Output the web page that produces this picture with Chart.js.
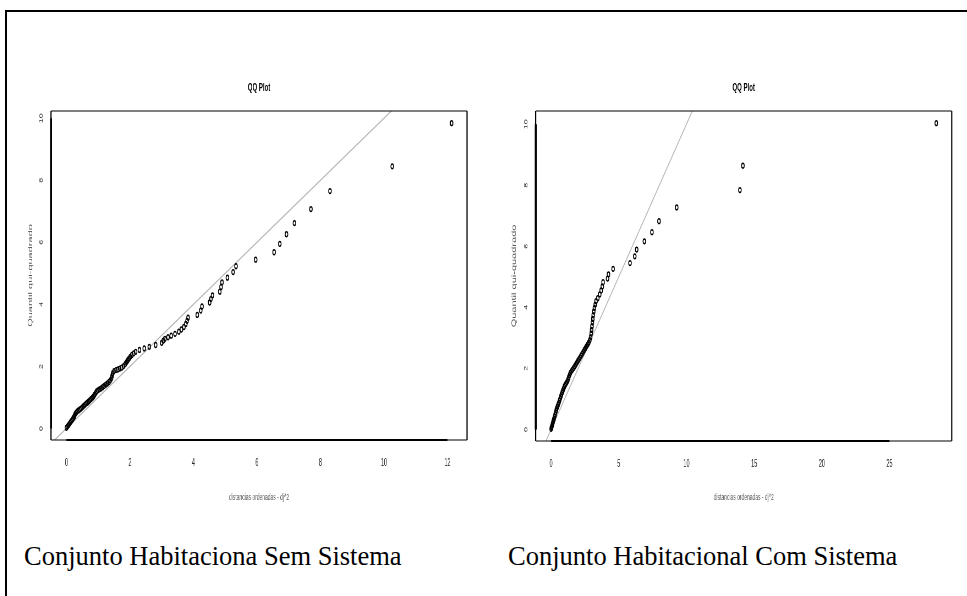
<!DOCTYPE html>
<html><head><meta charset="utf-8">
<script src="https://cdn.jsdelivr.net/npm/chart.js@4.4.1/dist/chart.umd.min.js"></script>
<style>
html,body{margin:0;padding:0;background:#fff;width:967px;height:596px;overflow:hidden;position:relative;}
#frame{position:absolute;left:5px;top:10px;width:990px;height:620px;border-top:2px solid #000;border-left:2px solid #000;}
.cap{position:absolute;font-family:"Liberation Serif","Times New Roman",serif;font-size:26.5px;line-height:30px;color:#000;white-space:nowrap;}
</style></head><body>
<div id="frame"></div>
<canvas id="c1"></canvas>
<canvas id="c2"></canvas>
<div class="cap" id="cap1" style="left:24px;top:541px;">Conjunto Habitaciona Sem Sistema</div>
<div class="cap" id="cap2" style="left:508px;top:541px;">Conjunto Habitacional Com Sistema</div>
<script>
// ---------- data ----------
const semX = [0.00,0.03,0.06,0.09,0.12,0.15,0.18,0.21,0.24,0.26,0.28,0.31,0.34,0.38,0.42,0.46,0.50,0.54,0.58,0.62,
0.66,0.70,0.74,0.78,0.82,0.86,0.89,0.92,0.95,0.99,1.04,1.09,1.14,1.19,1.24,1.29,1.34,1.38,1.42,1.44,
1.46,1.50,1.56,1.62,1.68,1.74,1.80,1.85,1.89,1.93,1.97,2.01,2.06,2.12,2.18,2.30,2.45,2.61,2.81,3.00,
3.05,3.10,3.20,3.30,3.42,3.54,3.62,3.70,3.76,3.80,3.83,4.12,4.23,4.27,4.51,4.55,4.60,4.83,4.87,4.90,
5.07,5.25,5.34,5.96,6.54,6.72,6.93,7.18,7.70,8.30,10.26,12.13];
const semY = [0.02,0.06,0.10,0.14,0.19,0.23,0.27,0.32,0.37,0.42,0.47,0.51,0.55,0.58,0.61,0.64,0.68,0.72,0.76,0.80,
0.83,0.87,0.91,0.95,0.99,1.04,1.09,1.14,1.19,1.23,1.26,1.29,1.33,1.37,1.41,1.45,1.50,1.55,1.62,1.70,
1.78,1.85,1.88,1.90,1.93,1.96,2.01,2.07,2.13,2.19,2.25,2.31,2.37,2.42,2.47,2.53,2.58,2.63,2.69,2.76,
2.83,2.89,2.94,2.99,3.05,3.12,3.19,3.27,3.37,3.47,3.57,3.66,3.80,3.93,4.06,4.17,4.29,4.41,4.56,4.71,
4.86,5.04,5.23,5.44,5.68,5.95,6.26,6.62,7.07,7.65,8.45,9.84];

const comX = [0.00,0.03,0.06,0.09,0.12,0.15,0.18,0.22,0.26,0.30,0.34,0.38,0.42,0.47,0.52,0.57,0.62,0.67,0.72,0.77,
0.82,0.87,0.92,0.97,1.03,1.10,1.17,1.24,1.30,1.36,1.42,1.50,1.58,1.66,1.74,1.82,1.90,1.98,2.06,2.14,
2.22,2.30,2.38,2.46,2.54,2.62,2.70,2.78,2.86,2.92,2.96,2.99,3.02,3.05,3.08,3.11,3.15,3.20,3.26,3.32,
3.45,3.59,3.70,3.78,3.84,4.17,4.24,4.58,5.83,6.18,6.32,6.89,7.45,7.97,9.28,13.95,14.17,28.46];
const comY = [0.02,0.06,0.10,0.15,0.20,0.25,0.30,0.35,0.42,0.49,0.56,0.63,0.69,0.75,0.81,0.87,0.94,1.01,1.08,1.15,
1.21,1.27,1.33,1.39,1.45,1.50,1.55,1.62,1.70,1.78,1.85,1.91,1.96,2.01,2.06,2.12,2.18,2.24,2.30,2.36,
2.42,2.48,2.54,2.60,2.66,2.72,2.78,2.84,2.92,3.02,3.14,3.26,3.38,3.50,3.62,3.74,3.86,3.98,4.09,4.20,
4.30,4.42,4.55,4.68,4.82,4.94,5.08,5.26,5.45,5.67,5.89,6.16,6.46,6.82,7.27,7.84,8.64,10.03];

const semXTicks = [0,2,4,6,8,10,12];
const semYTicks = [0,2,4,6,8,10];
const comXTicks = [0,5,10,15,20,25];
const comYTicks = [0,2,4,6,8,10];

const plotTitle = 'QQ Plot';
const xLabel = 'distancias ordenadas - dj^2';
const yLabel = 'Quantil qui-quadrado';
const refIntercept = 0;
const refSlope = 1;

// ---------- drawing ----------
const S = 0.55; // horizontal squeeze of the original figure
const FAM = '"Liberation Sans", Arial, Helvetica, sans-serif';

function qqChart(canvasId, xs, ys, xTicks, yTicks, g) {
  const cv = document.getElementById(canvasId);
  const wI = Math.round((g.right - g.left) / S);
  const hI = g.bottom - g.top;
  cv.width = wI; cv.height = hI;
  cv.style.cssText = `position:absolute;left:${g.left}px;top:${g.top}px;width:${wI}px;height:${hI}px;transform:scaleX(${S});transform-origin:0 0;`;
  const aL = (g.areaL - g.left) / S, aR = (g.areaR - g.left) / S;
  const aT = g.areaT - g.top, aB = g.areaB - g.top;

  const xlo = Math.min(...xs), xhi = Math.max(...xs), ylo = Math.min(...ys), yhi = Math.max(...ys);
  const xMin = xlo - 0.04 * (xhi - xlo), xMax = xhi + 0.04 * (xhi - xlo);
  const yMin = ylo - 0.04 * (yhi - ylo), yMax = yhi + 0.04 * (yhi - ylo);

  const pts = xs.map((x, i) => ({x: x, y: ys[i]}));
  const ref = [xMin, xMax].map(x => ({x: x, y: refIntercept + refSlope * x}));

  const deco = {
    id: 'deco',
    afterDraw(chart) {
      const ctx = chart.ctx, ca = chart.chartArea;
      const xs_ = chart.scales.x, ys_ = chart.scales.y;
      ctx.save();
      ctx.strokeStyle = '#000';
      ctx.lineWidth = 1.2;
      ctx.beginPath();
      ctx.moveTo(ca.left, ca.top); ctx.lineTo(ca.right, ca.top);
      ctx.moveTo(ca.left, ca.bottom); ctx.lineTo(ca.right, ca.bottom);
      ctx.stroke();
      ctx.lineWidth = 1.2 / S;
      ctx.beginPath();
      ctx.moveTo(ca.left, ca.top); ctx.lineTo(ca.left, ca.bottom);
      ctx.moveTo(ca.right, ca.top); ctx.lineTo(ca.right, ca.bottom);
      ctx.stroke();
      ctx.lineWidth = 2;
      ctx.beginPath();
      ctx.moveTo(xs_.getPixelForValue(xTicks[0]), ca.bottom);
      ctx.lineTo(xs_.getPixelForValue(xTicks[xTicks.length - 1]), ca.bottom);
      ctx.stroke();
      ctx.lineWidth = 2 / S;
      ctx.beginPath();
      ctx.moveTo(ca.left, ys_.getPixelForValue(yTicks[0]));
      ctx.lineTo(ca.left, ys_.getPixelForValue(yTicks[yTicks.length - 1]));
      ctx.stroke();
      ctx.fillStyle = '#333';
      ctx.font = '9px ' + FAM;
      ctx.textAlign = 'center';
      ctx.textBaseline = 'middle';
      const tx = ca.left - g.yTickOff / S;
      yTicks.forEach(v => {
        const py = ys_.getPixelForValue(v);
        ctx.save();
        ctx.translate(tx, py);
        ctx.rotate(-Math.PI / 2);
        ctx.fillText(String(v), 0, 0);
        ctx.restore();
      });
      ctx.fillStyle = '#000';
      ctx.font = 'bold 11px ' + FAM;
      ctx.fillText(plotTitle, (ca.left + ca.right) / 2, g.titleY - g.top);
      ctx.restore();
    }
  };

  new Chart(cv, {
    type: 'scatter',
    data: {
      datasets: [
        {data: pts, pointRadius: 2.4, pointBorderWidth: 1.5, pointBorderColor: '#000',
         pointBackgroundColor: 'rgba(0,0,0,0)', showLine: false, pointHoverRadius: 2.4},
        {type: 'line', data: ref, borderColor: '#b5b5b5', borderWidth: 1.4, pointRadius: 0, clip: 0, fill: false}
      ]
    },
    options: {
      responsive: false, animation: false, devicePixelRatio: 1, events: [],
      layout: {padding: {left: 0, top: aT, right: wI - aR, bottom: 0}},
      plugins: {legend: {display: false}, tooltip: {enabled: false}, title: {display: false}},
      scales: {
        x: {
          type: 'linear', min: xMin, max: xMax,
          afterBuildTicks: sc => { sc.ticks = xTicks.map(v => ({value: v})); },
          afterFit: sc => { sc.height = hI - aB; },
          grid: {display: false, drawTicks: false}, border: {display: false},
          ticks: {font: {family: FAM, size: 10}, color: '#222', padding: g.xTickPad, maxRotation: 0, minRotation: 0, autoSkip: false},
          title: {display: true, text: xLabel, font: {family: FAM, size: 9}, color: '#555', padding: {top: 0, bottom: g.xTitlePad}}
        },
        y: {
          type: 'linear', min: yMin, max: yMax,
          afterBuildTicks: sc => { sc.ticks = yTicks.map(v => ({value: v})); },
          afterFit: sc => { sc.width = aL; },
          grid: {display: false, drawTicks: false}, border: {display: false},
          ticks: {display: false},
          title: {display: true, text: yLabel, font: {family: FAM, size: 11}, color: '#555', padding: {top: (g.yTitleX - g.left) / S - 6.6, bottom: 0}}
        }
      }
    },
    plugins: [deco]
  });
}

qqChart('c1', semX, semY, semXTicks, semYTicks, {
  left: 8, right: 482, top: 70, bottom: 510,
  areaL: 51, areaR: 467, areaT: 111, areaB: 440,
  yTitleX: 30.7, yTickOff: 9.5, xTickPad: 17.5, xTitlePad: 6.6, titleY: 88
});
qqChart('c2', comX, comY, comXTicks, comYTicks, {
  left: 490, right: 962, top: 70, bottom: 510,
  areaL: 535.7, areaR: 951.7, areaT: 111, areaB: 441,
  yTitleX: 514, yTickOff: 9.7, xTickPad: 16.8, xTitlePad: 6.6, titleY: 88
});
</script>
</body></html>
